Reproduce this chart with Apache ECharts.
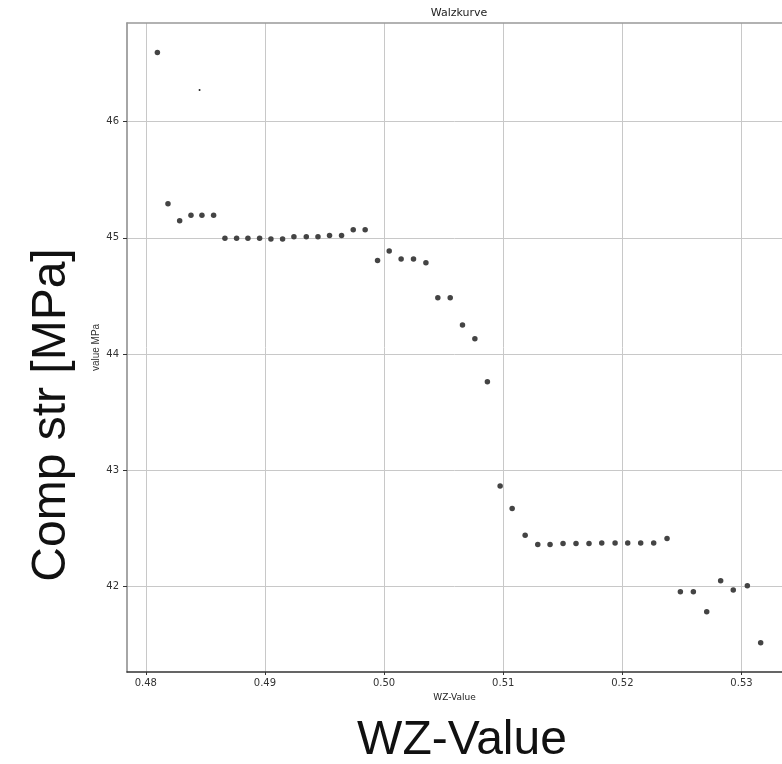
<!DOCTYPE html>
<html>
<head>
<meta charset="utf-8">
<script src="https://cdn.jsdelivr.net/npm/echarts@6/dist/echarts.min.js"></script>
<style>
  html, body { margin: 0; padding: 0; background: #fff; }
  #chart { width: 782px; height: 764px; }
</style>
</head>
<body>
<div id="chart"></div>
<script>
var wzValues = [0.48097, 0.48186, 0.48284, 0.48379, 0.48471, 0.48569, 0.48664, 0.48762, 0.48857, 0.48955,
  0.4905, 0.49148, 0.49243, 0.49347, 0.49445, 0.49542, 0.49643, 0.49741, 0.49841, 0.49945,
  0.50043, 0.50143, 0.50247, 0.50351, 0.50451, 0.50555, 0.50658, 0.50762, 0.50867, 0.50974,
  0.51075, 0.51184, 0.5129, 0.51393, 0.51502, 0.51611, 0.5172, 0.51827, 0.51939, 0.52045,
  0.52154, 0.52263, 0.52375, 0.52487, 0.52596, 0.52708, 0.52825, 0.52931, 0.53049, 0.53161];
var strValues = [46.593, 45.292, 45.146, 45.195, 45.195, 45.195, 44.997, 44.997, 44.997, 44.997,
  44.989, 44.989, 45.009, 45.009, 45.009, 45.02, 45.02, 45.069, 45.069, 44.806,
  44.886, 44.817, 44.817, 44.785, 44.485, 44.485, 44.25, 44.132, 43.763, 42.867,
  42.672, 42.443, 42.363, 42.363, 42.371, 42.371, 42.371, 42.377, 42.377, 42.377,
  42.377, 42.377, 42.414, 41.956, 41.956, 41.784, 42.051, 41.971, 42.008, 41.518];
var extraWz = [0.48451];
var extraStr = [46.271];
var xTicks = [0.48, 0.49, 0.50, 0.51, 0.52, 0.53];
var yTicks = [42, 43, 44, 45, 46];

function pairs(xs, ys) {
	var out = [];
	for (var i = 0; i < xs.length; i++) {
		out.push([xs[i], ys[i]]);
	}
	return out;
}

var chart = echarts.init(document.getElementById('chart'));
var option = {
	animation: false,
	backgroundColor: '#fff',
	grid: {
		left: 127,
		top: 23,
		right: 0,
		height: 649
	},
	xAxis: [{
		type: 'value',
		min: 0.47842,
		max: 0.5334,
		name: 'WZ-Value',
		nameLocation: 'middle',
		nameGap: 21,
		nameMoveOverlap: false,
		nameTextStyle: { fontFamily: 'DejaVu Sans', fontSize: 9, color: '#222' },
		axisLine: { show: true, lineStyle: { color: '#333', width: 1.5 } },
		axisTick: { show: true, length: 3, customValues: xTicks, lineStyle: { color: '#333' } },
		axisLabel: {
			customValues: xTicks,
			fontFamily: 'DejaVu Sans',
			fontSize: 10,
			color: '#333',
			margin: 6,
			formatter: function (v) { return v.toFixed(2); }
		},
		splitLine: { show: true, lineStyle: { color: '#c8c8c8', width: 1 } }
	}, {
		// top frame line only
		type: 'value',
		position: 'top',
		min: 0.47842,
		max: 0.5334,
		axisLine: { show: true, lineStyle: { color: '#999', width: 1.5 } },
		axisTick: { show: false },
		axisLabel: { show: false },
		splitLine: { show: false }
	}],
	yAxis: {
		type: 'value',
		min: 41.267,
		max: 46.847,
		name: 'value MPa',
		nameLocation: 'middle',
		nameGap: 26,
		nameMoveOverlap: false,
		nameRotate: 90,
		nameTextStyle: { fontFamily: 'Liberation Sans', fontSize: 10, color: '#333' },
		axisLine: { show: true, lineStyle: { color: '#888', width: 1.5 } },
		axisTick: { show: true, length: 4, customValues: yTicks, lineStyle: { color: '#333' } },
		axisLabel: {
			customValues: yTicks,
			fontFamily: 'DejaVu Sans',
			fontSize: 10,
			color: '#333',
			margin: 8
		},
		splitLine: { show: true, lineStyle: { color: '#c8c8c8', width: 1 } }
	},
	series: [{
		type: 'scatter',
		data: pairs(wzValues, strValues),
		symbolSize: 5.5,
		itemStyle: { color: '#444', opacity: 1 }
	}, {
		type: 'scatter',
		data: pairs(extraWz, extraStr),
		symbolSize: 2,
		itemStyle: { color: '#222', opacity: 1 }
	}],
	graphic: [{
		type: 'text',
		x: 459,
		y: 13,
		style: {
			text: 'Walzkurve',
			font: '11px "DejaVu Sans"',
			fill: '#222',
			align: 'center',
			verticalAlign: 'middle'
		}
	}, {
		type: 'text',
		x: 52,
		y: 415,
		rotation: Math.PI / 2,
		style: {
			text: 'Comp str [MPa]',
			font: '48px "Liberation Sans"',
			fill: '#111',
			align: 'center',
			verticalAlign: 'middle'
		}
	}, {
		type: 'text',
		x: 462,
		y: 741,
		style: {
			text: 'WZ-Value',
			font: '48px "Liberation Sans"',
			fill: '#111',
			align: 'center',
			verticalAlign: 'middle'
		}
	}]
};
chart.setOption(option);
</script>
</body>
</html>
